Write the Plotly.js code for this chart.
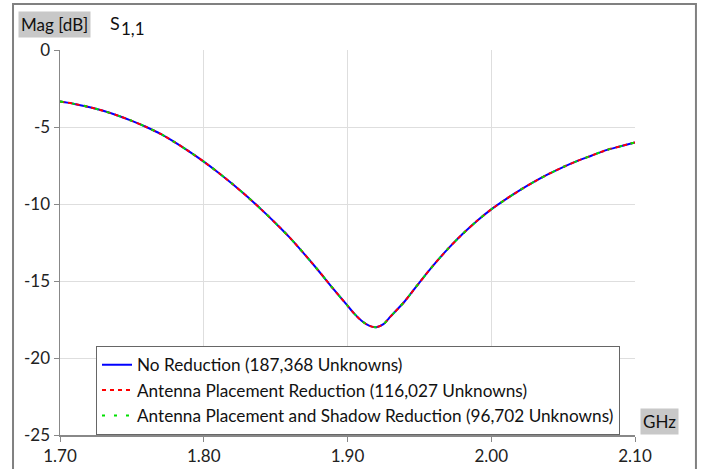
<!DOCTYPE html>
<html>
<head>
<meta charset="utf-8">
<script src="https://cdn.plot.ly/plotly-3.0.1.min.js"></script>
<style>html,body{margin:0;padding:0;background:#fff;}#chart{width:702px;height:469px;}</style>
</head>
<body>
<div id="chart"></div>
<script>
const freqGHz = [1.70,1.71,1.72,1.73,1.74,1.75,1.76,1.77,1.78,1.79,1.80,1.81,1.82,1.83,1.84,1.85,1.86,1.87,1.88,1.89,1.90,1.905,1.91,1.915,1.92,1.925,1.93,1.94,1.95,1.96,1.97,1.98,1.99,2.00,2.01,2.02,2.03,2.04,2.05,2.06,2.07,2.08,2.09,2.10];
const noReduction = [-3.35,-3.5,-3.7,-3.95,-4.25,-4.6,-5.0,-5.45,-6.0,-6.6,-7.25,-7.95,-8.7,-9.5,-10.35,-11.25,-12.2,-13.25,-14.35,-15.5,-16.6,-17.15,-17.6,-17.9,-18.0,-17.8,-17.3,-16.3,-15.1,-13.95,-12.9,-11.95,-11.1,-10.35,-9.7,-9.1,-8.55,-8.05,-7.6,-7.2,-6.85,-6.5,-6.25,-6.0];
const placementReduction = noReduction.slice();
const shadowReduction = noReduction.slice();
const seriesNames = [
  "No Reduction (187,368 Unknowns)",
  "Antenna Placement Reduction (116,027 Unknowns)",
  "Antenna Placement and Shadow Reduction (96,702 Unknowns)"
];
const xTicks = [1.70,1.80,1.90,2.00,2.10];
const yTicks = [0,-5,-10,-15,-20,-25];

const FONT = "Lato, 'Open Sans', sans-serif";
const traces = [
  {x: freqGHz, y: noReduction, name: seriesNames[0], mode: "lines",
   line: {color: "#0000ff", width: 2, shape: "spline", smoothing: 0.8}},
  {x: freqGHz, y: placementReduction, name: seriesNames[1], mode: "lines",
   line: {color: "#ff0000", width: 2, dash: "4px,4px", shape: "spline", smoothing: 0.8}},
  {x: freqGHz, y: shadowReduction, name: seriesNames[2], mode: "lines",
   line: {color: "#00e000", width: 2, dash: "3px,9px", shape: "spline", smoothing: 0.8}}
];

const layout = {
  width: 702, height: 469,
  margin: {l: 60, r: 67, t: 50, b: 34},
  paper_bgcolor: "#fff", plot_bgcolor: "#fff",
  font: {family: FONT, size: 17, color: "#222"},
  showlegend: true,
  legend: {
    x: 0.0626, y: 0.231, xanchor: "left", yanchor: "top",
    bgcolor: "#fff", bordercolor: "#666", borderwidth: 1,
    font: {family: FONT, size: 17.2, color: "#111"},
    tracegroupgap: 0, itemwidth: 30
  },
  xaxis: {
    range: [1.70, 2.10], tickvals: xTicks, ticktext: xTicks.map(v => v.toFixed(2)),
    showgrid: true, gridcolor: "#dedede", gridwidth: 1,
    showline: true, linecolor: "#888", linewidth: 1.5,
    ticks: "outside", ticklen: 5, tickcolor: "#888",
    tickfont: {family: FONT, size: 17, color: "#222"},
    zeroline: false, fixedrange: true
  },
  yaxis: {
    range: [-25, 0], tickvals: yTicks, ticktext: yTicks.map(String),
    showgrid: true, gridcolor: "#dedede", gridwidth: 1,
    showline: true, linecolor: "#888", linewidth: 1.5,
    ticks: "outside", ticklen: 5, tickcolor: "#888",
    tickfont: {family: FONT, size: 17, color: "#222"},
    zeroline: false, fixedrange: true
  },
  shapes: [
    {type: "rect", xref: "paper", yref: "paper", x0: -0.0817, x1: 1.106, y0: -0.3, y1: 1.1195,
     line: {color: "#808080", width: 2}, fillcolor: "rgba(0,0,0,0)", layer: "below"}
  ],
  annotations: [
    {xref: "paper", yref: "paper", x: -0.0735, y: 1.0675, xanchor: "left", yanchor: "middle",
     text: "Mag [dB]", showarrow: false, bgcolor: "#c8c8c8", borderpad: 2,
     font: {family: FONT, size: 17, color: "#111"}},
    {xref: "paper", yref: "paper", x: 0.083, y: 1.07, xanchor: "left", yanchor: "middle",
     text: "S", showarrow: false,
     font: {family: FONT, size: 18, color: "#111"}},
    {xref: "paper", yref: "paper", x: 0.102, y: 1.055, xanchor: "left", yanchor: "middle",
     text: "1,1", showarrow: false,
     font: {family: FONT, size: 17, color: "#111"}},
    {xref: "paper", yref: "paper", x: 1.0087, y: 0.036, xanchor: "left", yanchor: "middle",
     text: "GHz", showarrow: false, bgcolor: "#c8c8c8", borderpad: 2,
     font: {family: FONT, size: 17, color: "#111"}}
  ]
};

Plotly.newPlot("chart", traces, layout, {staticPlot: true, displayModeBar: false});
</script>
</body>
</html>
